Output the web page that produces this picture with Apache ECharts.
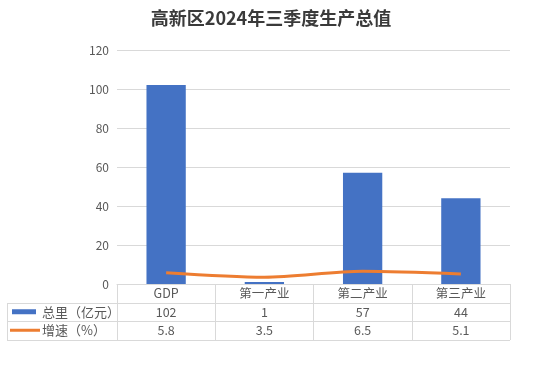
<!DOCTYPE html>
<html>
<head>
<meta charset="utf-8">
<script src="https://cdn.jsdelivr.net/npm/echarts@6/dist/echarts.min.js"></script>
<style>
html,body{margin:0;padding:0;background:#fff;}
#c{width:542px;height:373px;}
</style>
</head>
<body>
<div id="c"></div>
<script>
var categories = ['GDP', '第一产业', '第二产业', '第三产业'];
var totals = [102, 1, 57, 44];
var speeds = [5.8, 3.5, 6.5, 5.1];
var seriesNames = ['总里（亿元）', '增速（%）'];
var yTicks = { min: 0, max: 120, interval: 20 };
var titleText = '高新区2024年三季度生产总值';

var FONT = '"Noto Sans CJK SC", "Microsoft YaHei", sans-serif';
var GRID = { left: 117, right: 32, top: 50, bottom: 89 };
var W = 542, H = 373;
var axisY = H - GRID.bottom;         // 284
var rowH = 18.5;
var tableLeft = 7;
var tableRight = W - GRID.right;     // 510
var blue = '#4472C4', orange = '#ED7D31', lineCol = '#D9D9D9', txt = '#595959';

var chart = echarts.init(document.getElementById('c'), null, { renderer: 'canvas' });

var graphics = [];
for (var r = 1; r <= 3; r++) {
  graphics.push({
    type: 'line', silent: true,
    shape: { x1: tableLeft, y1: Math.round(axisY + rowH * r) + 0.5, x2: tableRight, y2: Math.round(axisY + rowH * r) + 0.5 },
    style: { stroke: lineCol, lineWidth: 1 }
  });
}
graphics.push({
  type: 'line', silent: true,
  shape: { x1: tableLeft + 0.5, y1: Math.round(axisY + rowH) + 0.5, x2: tableLeft + 0.5, y2: Math.round(axisY + rowH * 3) + 0.5 },
  style: { stroke: lineCol, lineWidth: 1 }
});
var row1c = axisY + rowH * 1.5, row2c = axisY + rowH * 2.5;
graphics.push({ type: 'rect', silent: true, shape: { x: 12, y: row1c - 2.5, width: 24, height: 5 }, style: { fill: blue } });
graphics.push({ type: 'line', silent: true, shape: { x1: 10, y1: row2c, x2: 40, y2: row2c }, style: { stroke: orange, lineWidth: 3 } });
graphics.push({ type: 'text', silent: true, x: 42, y: row1c, style: { text: seriesNames[0], fill: txt, font: '13px ' + FONT, verticalAlign: 'middle', align: 'left' } });
graphics.push({ type: 'text', silent: true, x: 42, y: row2c, style: { text: seriesNames[1], fill: txt, font: '13px ' + FONT, verticalAlign: 'middle', align: 'left' } });

var option = {
  backgroundColor: '#fff',
  animation: false,
  textStyle: { fontFamily: FONT },
  title: {
    text: titleText,
    left: 'center',
    top: 4,
    textStyle: { fontSize: 18, fontWeight: 'bold', color: '#3a3a3a', fontFamily: FONT }
  },
  grid: { left: GRID.left, right: GRID.right, top: GRID.top, bottom: GRID.bottom, containLabel: false },
  xAxis: {
    type: 'category',
    data: categories,
    boundaryGap: true,
    axisLine: { show: true, lineStyle: { color: lineCol, width: 1 } },
    axisTick: { show: true, length: Math.round(rowH * 3), lineStyle: { color: lineCol, width: 1 } },
    axisLabel: {
      margin: 0,
      interval: 0,
      color: txt,
      fontSize: 12,
      formatter: function (v, i) {
        return '{h|' + v + '}\n{v|' + totals[i] + '}\n{v|' + speeds[i] + '}';
      },
      rich: {
        h: { fontSize: 12.5, lineHeight: rowH, color: txt, fontFamily: FONT },
        v: { fontSize: 12.5, lineHeight: rowH, color: txt, fontFamily: FONT }
      }
    }
  },
  yAxis: {
    type: 'value',
    min: yTicks.min, max: yTicks.max, interval: yTicks.interval,
    axisLine: { show: false },
    axisTick: { show: false },
    axisLabel: { color: txt, fontSize: 12, margin: 8 },
    splitLine: { lineStyle: { color: lineCol, width: 1 } }
  },
  series: [
    {
      name: seriesNames[0], type: 'bar', data: totals,
      barWidth: '40%',
      itemStyle: { color: blue }
    },
    {
      name: seriesNames[1], type: 'line', data: speeds,
      smooth: 0.3,
      showSymbol: false, symbol: 'none',
      lineStyle: { color: orange, width: 3 },
      itemStyle: { color: orange },
      z: 5
    }
  ],
  graphic: graphics
};
chart.setOption(option);
</script>
</body>
</html>
